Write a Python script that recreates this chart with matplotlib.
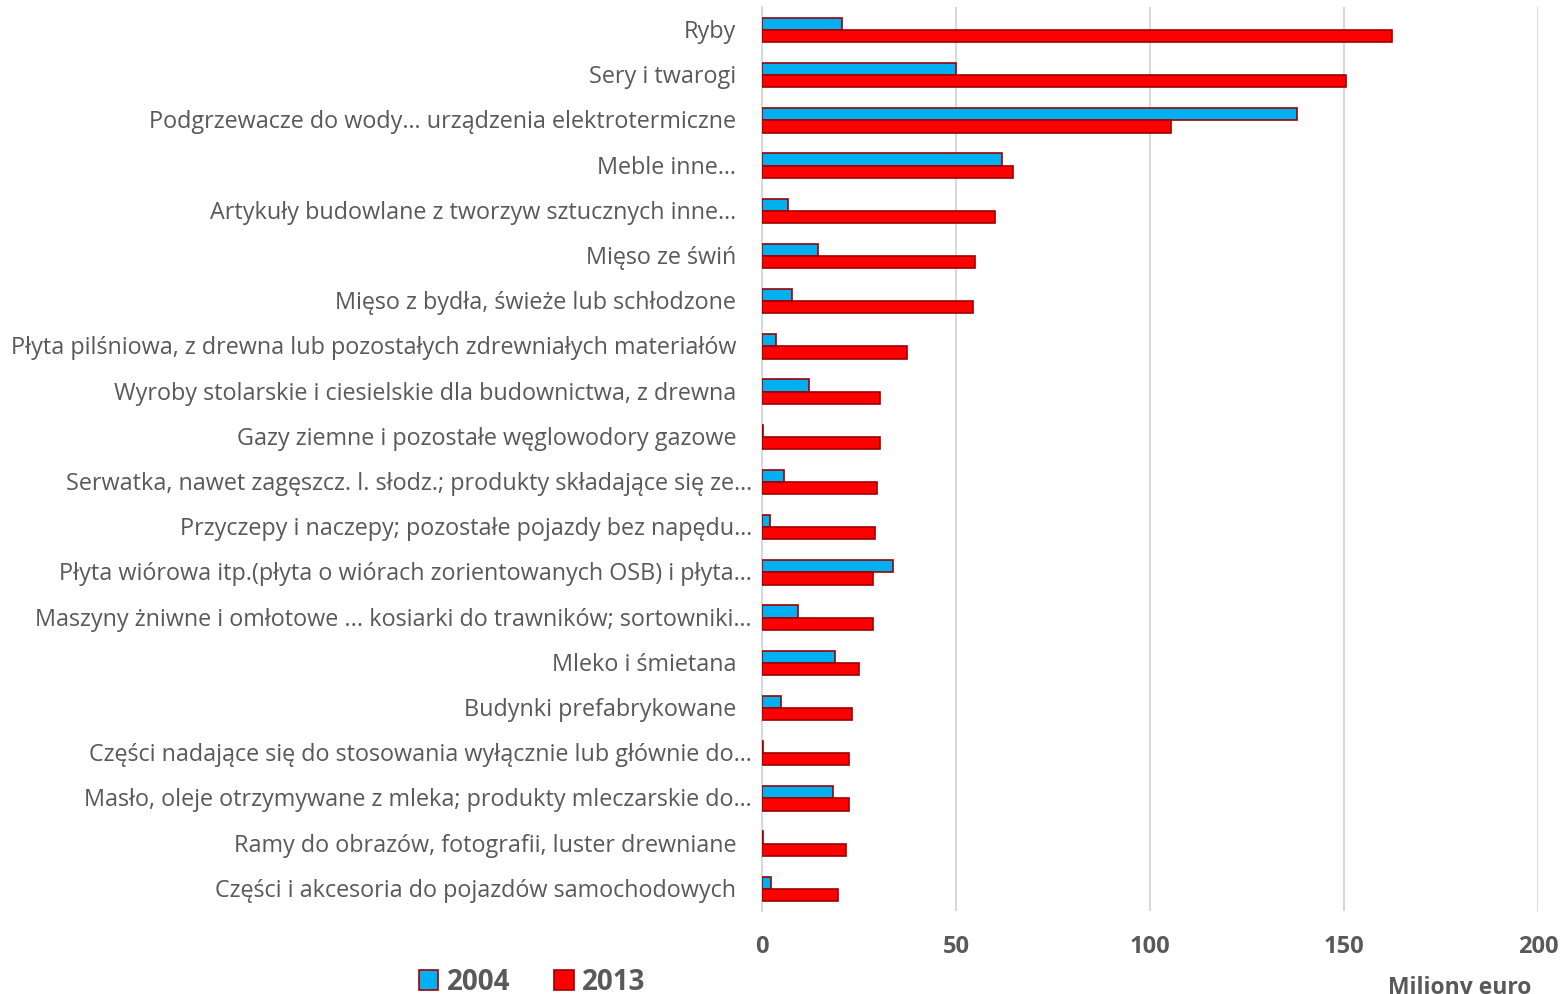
import numpy as np
import matplotlib.pyplot as plt
import matplotlib.transforms as mtransforms
from matplotlib.patches import Patch

# Dane (miliony euro)
CATEGORIES = [
    "Ryby",
    "Sery i twarogi",
    "Podgrzewacze do wody… urządzenia elektrotermiczne",
    "Meble inne…",
    "Artykuły budowlane z tworzyw sztucznych inne…",
    "Mięso ze świń",
    "Mięso z bydła, świeże lub schłodzone",
    "Płyta pilśniowa, z drewna lub pozostałych zdrewniałych materiałów",
    "Wyroby stolarskie i ciesielskie dla budownictwa, z drewna",
    "Gazy ziemne i pozostałe węglowodory gazowe",
    "Serwatka, nawet zagęszcz. l. słodz.; produkty składające się ze…",
    "Przyczepy i naczepy; pozostałe pojazdy bez napędu…",
    "Płyta wiórowa itp.(płyta o wiórach zorientowanych OSB) i płyta…",
    "Maszyny żniwne i omłotowe ... kosiarki do trawników; sortowniki…",
    "Mleko i śmietana",
    "Budynki prefabrykowane",
    "Części nadające się do stosowania wyłącznie lub głównie do…",
    "Masło, oleje otrzymywane z mleka; produkty mleczarskie do…",
    "Ramy do obrazów, fotografii, luster drewniane",
    "Części i akcesoria do pojazdów samochodowych",
]
# etykiety obcięte, których wielokropek wystaje poza wyrównanie
OVERFLOW = [10, 11, 12, 13, 16, 17]
VALUES_2004 = [20.6, 50.0, 137.9, 61.9, 6.7, 14.4, 7.7, 3.6, 12.1, 0.2,
               5.7, 2.1, 33.8, 9.3, 18.8, 4.9, 0.2, 18.3, 0.2, 2.3]
VALUES_2013 = [162.4, 150.5, 105.4, 64.7, 60.1, 54.9, 54.4, 37.4, 30.4, 30.4,
               29.6, 29.1, 28.6, 28.6, 25.0, 23.2, 22.4, 22.4, 21.6, 19.6]
SERIES = ["2004", "2013"]
X_TICKS = [0, 50, 100, 150, 200]

BLUE = "#00B0F0"
RED = "#FF0000"
EDGE = "#9E0000"
TEXT = "#595959"

plt.rcParams['font.family'] = ['Open Sans', 'DejaVu Sans']


def main():
    fig = plt.figure(figsize=(15.6, 9.94), dpi=100)
    ax = fig.add_axes([0.4885, 0.083, 0.4975, 0.9096])

    y = np.arange(len(CATEGORIES))
    h = 0.27
    ax.barh(y - h / 2, VALUES_2004, height=h, color=BLUE, edgecolor=EDGE,
            linewidth=1.2, zorder=3)
    ax.barh(y + h / 2, VALUES_2013, height=h, color=RED, edgecolor=EDGE,
            linewidth=1.2, zorder=3)

    ax.set_ylim(len(CATEGORIES) - 0.5, -0.5)
    ax.set_xlim(0, 200)
    ax.set_yticks(y)
    ax.set_yticklabels([])
    ax.tick_params(axis='y', length=0)

    # etykiety kategorii rysowane ręcznie (przesunięcie w pikselach)
    base = mtransforms.blended_transform_factory(ax.transAxes, ax.transData)
    for i, name in enumerate(CATEGORIES):
        dx = -10 if i in OVERFLOW else -26
        tr = mtransforms.offset_copy(base, fig=fig, x=dx, y=-2, units='dots')
        ax.text(0, i, name, transform=tr, ha='right', va='center',
                fontsize=16.8, color=TEXT)

    ax.set_xticks(X_TICKS)
    ax.set_xticklabels([str(t) for t in X_TICKS], fontsize=17,
                       fontweight='bold', color=TEXT)
    ax.tick_params(axis='x', length=0, pad=17)

    ax.grid(axis='x', color="#D9D9D9", linewidth=1.5, zorder=0)
    for side in ("top", "right", "bottom"):
        ax.spines[side].set_visible(False)
    ax.spines["left"].set_color("#D9D9D9")
    ax.spines["left"].set_linewidth(1.5)

    # w oryginale podpis osi jest lekko przycięty dolną krawędzią
    fig.text(0.936, 0.0, "Miliony euro", fontsize=16.5, fontweight='bold',
             color=TEXT, ha='center', va='baseline')

    handles = [Patch(facecolor=BLUE, edgecolor=EDGE, linewidth=1.2),
               Patch(facecolor=RED, edgecolor=EDGE, linewidth=1.2)]
    fig.legend(handles, SERIES, loc='lower left', bbox_to_anchor=(0.2525, -0.028),
               ncol=2, frameon=False, handlelength=0.7, handleheight=0.7,
               handletextpad=0.3, columnspacing=1.6,
               prop={'size': 20, 'weight': 'bold'}, labelcolor=TEXT)

    fig.savefig("out.png", dpi=100)


if __name__ == "__main__":
    main()
